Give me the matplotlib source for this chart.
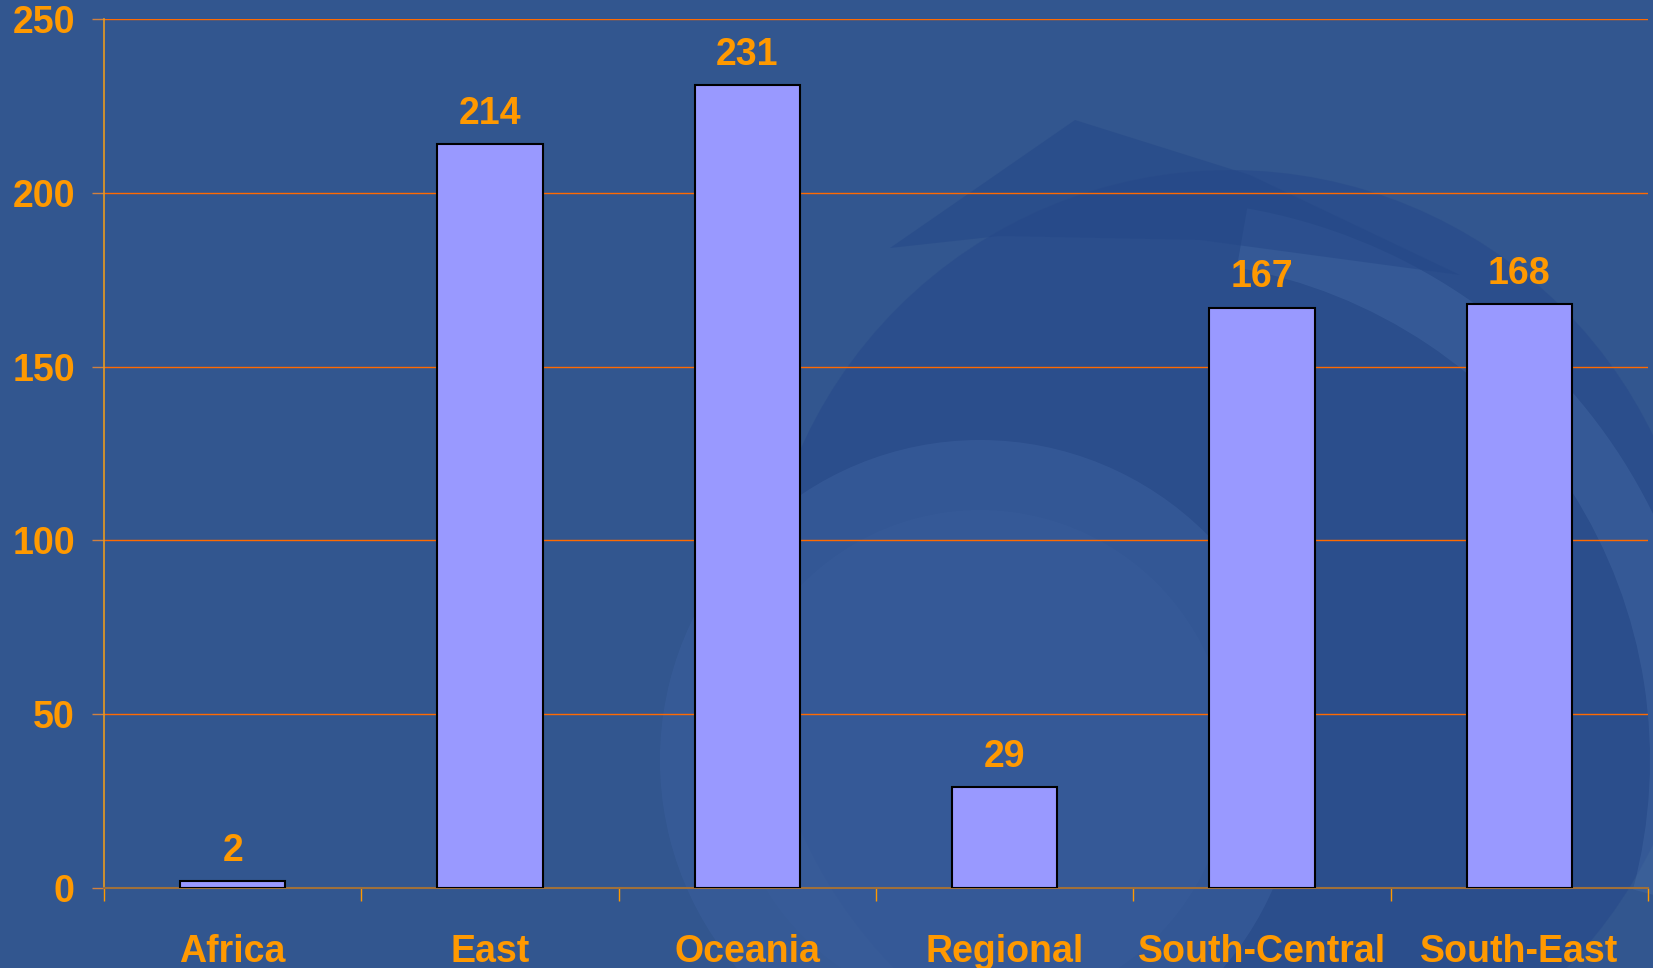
import matplotlib
matplotlib.use('Agg')
import matplotlib.pyplot as plt
from matplotlib.patches import Circle, Polygon, Wedge

categories = ['Africa', 'East', 'Oceania', 'Regional', 'South-Central', 'South-East']
values = [2, 214, 231, 29, 167, 168]
y_ticks = [0, 50, 100, 150, 200, 250]

bg = '#32568f'
orange = '#ff9900'
bar_color = '#9999ff'

plt.rcParams['font.family'] = ['Liberation Sans', 'DejaVu Sans']
plt.rcParams['font.weight'] = 'bold'

W, H = 1653, 968
fig = plt.figure(figsize=(W / 100, H / 100), dpi=100)
fig.patch.set_facecolor(bg)

# background swirl of the slide template, in pixel coordinates
deco_ax = fig.add_axes([0, 0, 1, 1], zorder=-1)
deco_ax.set_xlim(0, W)
deco_ax.set_ylim(H, 0)
deco_ax.set_aspect('equal')
deco_ax.axis('off')
deco = [
    Circle((1230, 640), 470, color='#27498a', alpha=0.55, lw=0),
    Wedge((1150, 760), 560, -80, 15, width=60, color='#4a70aa', alpha=0.35, lw=0),
    Circle((980, 760), 320, color='#3b5f9d', alpha=0.55, lw=0),
    Circle((980, 760), 250, color='#3b5f9d', alpha=0.3, lw=0),
    Polygon([(890, 248), (1075, 120), (1250, 175), (1460, 275), (1200, 240), (1000, 236)],
            closed=True, color='#254888', alpha=0.55, lw=0),
]
for p in deco:
    deco_ax.add_patch(p)

ax = fig.add_axes([104 / W, 1 - 888 / H, (1648 - 104) / W, (888 - 19) / H])
ax.set_facecolor('none')

x = range(len(categories))
ax.bar(x, values, width=0.41, color=bar_color, edgecolor='black', linewidth=1.5, zorder=3)

for xi, v in zip(x, values):
    ax.annotate(str(v), (xi, v), xytext=(0, 9), textcoords='offset points',
                ha='center', va='bottom', fontsize=27, fontweight='bold', color=orange)

ax.set_xlim(-0.5, len(categories) - 0.5)
ax.set_ylim(0, 250)
ax.set_yticks(y_ticks)
ax.yaxis.grid(True, color='#ff6a00', linewidth=1.0, zorder=1)
ax.set_axisbelow(True)

ax.set_xticks(x)
ax.set_xticklabels(categories)
ax.set_xticks([i - 0.5 for i in range(len(categories) + 1)], minor=True)
ax.tick_params(axis='x', which='major', length=0, pad=33, labelsize=27, labelcolor=orange)
ax.tick_params(axis='x', which='minor', length=9, width=1, color=orange, direction='out')
ax.tick_params(axis='y', length=9, width=1, color='#d08040', pad=12, labelsize=27, labelcolor=orange)
for lab in ax.get_xticklabels() + ax.get_yticklabels():
    lab.set_fontweight('bold')

ax.spines['top'].set_visible(False)
ax.spines['right'].set_visible(False)
ax.spines['left'].set_color('#e89a20')
ax.spines['left'].set_linewidth(1.2)
ax.spines['bottom'].set_color('#a0703a')
ax.spines['bottom'].set_linewidth(1.5)

fig.savefig('out.png', dpi=100, facecolor=bg)
